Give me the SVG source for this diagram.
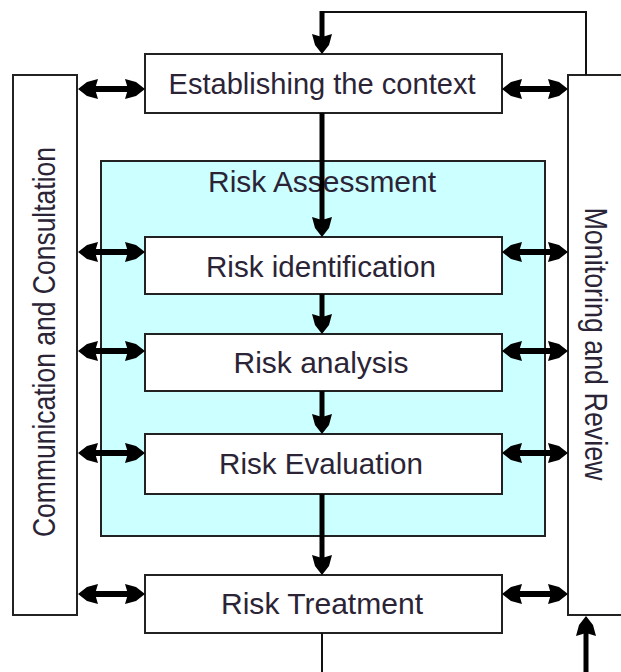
<svg xmlns="http://www.w3.org/2000/svg" width="621" height="672" viewBox="0 0 621 672">
<defs>
<style>
.box{fill:#fff;stroke:#222;stroke-width:2}
.lbl{font-family:"Liberation Sans",Arial,sans-serif;font-size:29px;fill:#2a2436;text-anchor:middle}
.dbl{stroke:#000;stroke-width:6;fill:none;marker-start:url(#ah);marker-end:url(#ah)}
.one{stroke:#000;stroke-width:5;fill:none;marker-end:url(#ah)}
.thin{stroke:#111;stroke-width:2;fill:none}
</style>
<marker id="ah" viewBox="0 -10 20 20" refX="8" refY="0" markerWidth="20" markerHeight="20" markerUnits="userSpaceOnUse" orient="auto-start-reverse">
<path d="M0,-10 L11,-7 L20,0 L11,7 L0,10 L3,0 Z" fill="#000"/>
</marker>
</defs>
<rect width="621" height="672" fill="#fff"/>

<g id="risk-assessment">
<rect x="101" y="161" width="444" height="375" fill="#ccffff" stroke="#222" stroke-width="2"/>
<text class="lbl" x="322" y="192" textLength="228" lengthAdjust="spacingAndGlyphs">Risk Assessment</text>
</g>

<g id="communication">
<rect class="box" x="13" y="75" width="64" height="540"/>
<text class="lbl" transform="translate(55,342) rotate(-90)" style="font-size:32px" textLength="390" lengthAdjust="spacingAndGlyphs">Communication and Consultation</text>
</g>

<g id="monitoring">
<rect class="box" x="568" y="75" width="60" height="540"/>
<text class="lbl" transform="translate(585,344) rotate(90)" style="font-size:32px" textLength="273" lengthAdjust="spacingAndGlyphs">Monitoring and Review</text>
</g>

<g id="context">
<rect class="box" x="145" y="54" width="357" height="59"/>
<text class="lbl" x="322" y="94" textLength="307" lengthAdjust="spacingAndGlyphs">Establishing the context</text>
</g>

<g id="identification">
<rect class="box" x="145" y="237" width="357" height="57"/>
<text class="lbl" x="321" y="277" textLength="230" lengthAdjust="spacingAndGlyphs">Risk identification</text>
</g>

<g id="analysis">
<rect class="box" x="145" y="334" width="357" height="57"/>
<text class="lbl" x="321" y="373" textLength="175" lengthAdjust="spacingAndGlyphs">Risk analysis</text>
</g>

<g id="evaluation">
<rect class="box" x="145" y="434" width="357" height="60"/>
<text class="lbl" x="321" y="474" textLength="204" lengthAdjust="spacingAndGlyphs">Risk Evaluation</text>
</g>

<g id="treatment">
<rect class="box" x="145" y="575" width="357" height="58"/>
<text class="lbl" x="322" y="614" textLength="202" lengthAdjust="spacingAndGlyphs">Risk Treatment</text>
</g>

<g id="connectors">
<path class="thin" d="M322,12 H586 V75"/>
<path class="one" d="M322,11 V42"/>
<path class="one" d="M322,113 V225"/>
<path class="one" d="M322,294 V322"/>
<path class="one" d="M322,391 V422"/>
<path class="one" d="M322,494 V563"/>
<path class="thin" d="M322,633 V672"/>
<path class="one" d="M586,672 V628"/>

<path class="dbl" d="M90,89 H133"/>
<path class="dbl" d="M90,252 H133"/>
<path class="dbl" d="M90,351 H133"/>
<path class="dbl" d="M90,453 H133"/>
<path class="dbl" d="M90,594 H133"/>

<path class="dbl" d="M514,89 H556"/>
<path class="dbl" d="M514,252 H556"/>
<path class="dbl" d="M514,351 H556"/>
<path class="dbl" d="M514,453 H556"/>
<path class="dbl" d="M514,594 H556"/>
</g>
</svg>
